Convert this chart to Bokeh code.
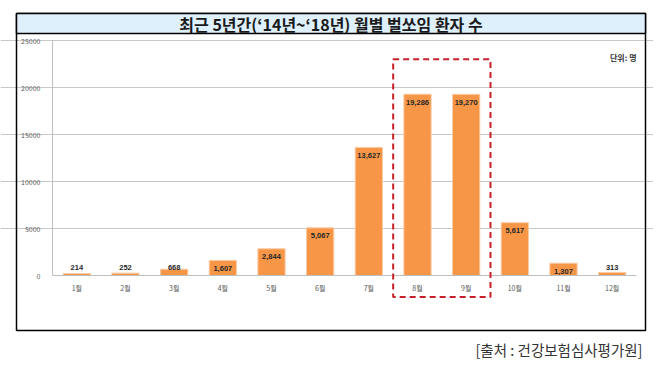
from bokeh.plotting import figure
from bokeh.models import (Range1d, FixedTicker, BoxAnnotation, Label, ColumnDataSource)
from bokeh.embed import file_html
from bokeh.resources import INLINE
from bokeh.core.properties import value

# ---- data ----
months = ["1월", "2월", "3월", "4월", "5월", "6월", "7월", "8월", "9월", "10월", "11월", "12월"]
patients = [214, 252, 668, 1607, 2844, 5067, 13627, 19286, 19270, 5617, 1307, 313]
y_ticks = [0, 5000, 10000, 15000, 20000, 25000]
highlight = ["8월", "9월"]
title_text = "최근 5년간(‘14년~‘18년) 월별 벌쏘임 환자 수"
unit_text = "단위: 명"
source_text = "[출처 : 건강보험심사평가원]"

FONT = "Noto Sans CJK KR"

# ---- layout helpers (page pixel -> data) ----
W, H = 653, 364
PAGE = 0
AX_LEFT_PX = 52.0
AX_RIGHT_PX = 636.0
PX_PER_CAT = (AX_RIGHT_PX - AX_LEFT_PX) / len(months)
ZERO_PX = 275.0
TOP_PX = 40.0
PX_PER_Y = (ZERO_PX - TOP_PX) / y_ticks[-1]


def px_x(px):
    return -0.5 + (px - AX_LEFT_PX) / PX_PER_CAT


def px_y(py):
    return (ZERO_PX - py) / PX_PER_Y


idx = list(range(len(months)))

p = figure(width=W, height=H, output_backend="svg", toolbar_location=None,
           x_range=Range1d(px_x(PAGE), px_x(PAGE + W)),
           y_range=Range1d(px_y(PAGE + H), px_y(PAGE)),
           min_border=0, min_border_left=0, min_border_right=0,
           min_border_top=0, min_border_bottom=0)
p.title.visible = False
p.outline_line_color = None
p.background_fill_color = "white"
p.border_fill_color = "white"

# outer frame and title box
p.add_layout(BoxAnnotation(left=px_x(16), right=px_x(645), top=px_y(13), bottom=px_y(330),
                           fill_color=None, line_color="black", line_alpha=1, line_width=1.5,
                           level="underlay"))
p.add_layout(BoxAnnotation(left=px_x(16), right=px_x(645), top=px_y(13), bottom=px_y(33),
                           fill_color="#DEF0FB", fill_alpha=1, line_color="black", line_alpha=1,
                           line_width=1.5, level="underlay"))
p.add_layout(Label(x=px_x(330.5), y=px_y(23.5), text=title_text, text_align="center",
                   text_baseline="middle", text_font=FONT, text_font_size="16px",
                   text_font_style="bold", text_color="#1a1a1a"))

# axes
yax = p.yaxis[0]
yax.fixed_location = -0.5
yax.ticker = FixedTicker(ticks=y_ticks)
yax.bounds = (0, y_ticks[-1])
yax.axis_line_color = "#BFBFBF"
yax.major_tick_line_color = None
yax.minor_tick_line_color = None
yax.major_label_text_font = FONT
yax.major_label_text_font_size = "7px"
yax.major_label_text_color = "#595959"
yax.major_label_standoff = 6

xax = p.xaxis[0]
xax.fixed_location = 0
xax.ticker = FixedTicker(ticks=idx)
xax.major_label_overrides = {i: m for i, m in zip(idx, months)}
xax.bounds = (-0.5, len(months) - 0.5)
xax.axis_line_color = "#BFBFBF"
xax.major_tick_line_color = None
xax.minor_tick_line_color = None
xax.major_label_text_font = FONT
xax.major_label_text_font_size = "7px"
xax.major_label_text_color = "#595959"
xax.major_label_standoff = 1

p.xgrid.visible = False
p.ygrid.ticker = FixedTicker(ticks=y_ticks[1:])
p.ygrid.bounds = (-0.5, len(months) - 0.5)
p.ygrid.grid_line_color = "#C8C8C8"

# bars
src = ColumnDataSource(dict(x=idx, top=patients))
p.vbar(x="x", top="top", width=0.56, source=src, fill_color="#F79646",
       line_color="#FBCBA6", line_width=1)

inside = [i for i, v in enumerate(patients) if v >= 1000]
outside = [i for i, v in enumerate(patients) if v < 1000]
src_in = ColumnDataSource(dict(x=[idx[i] for i in inside], y=[patients[i] for i in inside],
                               lab=[f"{patients[i]:,}" for i in inside]))
src_out = ColumnDataSource(dict(x=[idx[i] for i in outside], y=[0 for i in outside],
                                lab=[f"{patients[i]:,}" for i in outside]))
p.text(x="x", y="y", text="lab", source=src_in, y_offset=8, text_align="center",
       text_baseline="middle", text_font=value("Liberation Sans"), text_font_size="7.5px",
       text_font_style="bold", text_color="#262626")
p.text(x="x", y="y", text="lab", source=src_out, y_offset=-8, text_align="center",
       text_baseline="middle", text_font=value("Liberation Sans"), text_font_size="7.5px",
       text_font_style="bold", text_color="#262626")

# highlight dashed box around Aug-Sep
h0 = months.index(highlight[0])
h1 = months.index(highlight[-1])
p.add_layout(BoxAnnotation(left=h0 - 0.5, right=h1 + 0.5, top=23000, bottom=-2300,
                           fill_color=None, line_color="#C8202A", line_alpha=1, line_width=2,
                           line_dash="6 4"))

# unit label
p.add_layout(Label(x=len(months) - 0.5, y=px_y(57), text=unit_text, text_align="right",
                   text_baseline="middle", text_font=FONT, text_font_size="8px",
                   text_font_style="bold", text_color="#333333"))

# source
p.add_layout(Label(x=px_x(642), y=px_y(349), text=source_text, text_align="right",
                   text_baseline="middle", text_font=FONT, text_font_size="14.5px",
                   text_color="#333333"))

open("out.html", "w").write(file_html(p, INLINE))
